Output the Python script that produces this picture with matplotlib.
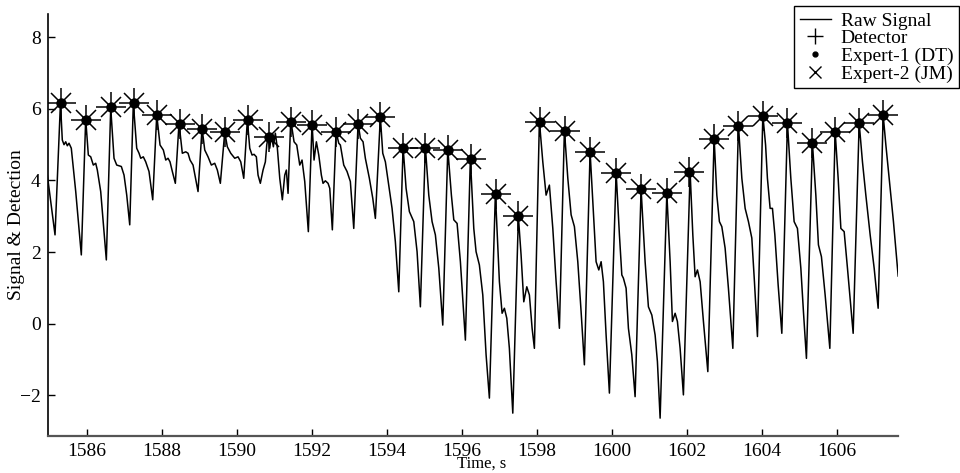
import numpy as np
import matplotlib
matplotlib.use('Agg')
import matplotlib.pyplot as plt
from matplotlib.lines import Line2D

# Raw signal vertices (time in s, amplitude)
sig_t = [
    1584.95, 1585.155, 1585.30, 1585.349, 1585.395, 1585.440, 1585.483, 1585.528, 1585.589, 1585.707, 1585.856,
    1585.973, 1586.043, 1586.107, 1586.176, 1586.240, 1586.283, 1586.373, 1586.523,
    1586.640, 1586.728, 1586.800, 1586.923, 1586.995, 1587.067, 1587.147,
    1587.243, 1587.333, 1587.395, 1587.440, 1587.509, 1587.573, 1587.661, 1587.760,
    1587.867, 1587.955, 1588.043, 1588.107, 1588.168, 1588.221, 1588.283, 1588.363,
    1588.461, 1588.549, 1588.640, 1588.701, 1588.755, 1588.835, 1588.968,
    1589.075, 1589.147, 1589.235, 1589.323, 1589.413, 1589.483, 1589.563,
    1589.680, 1589.749, 1589.840, 1589.947, 1590.035, 1590.107, 1590.187,
    1590.283, 1590.347, 1590.408, 1590.461, 1590.523, 1590.568, 1590.629, 1590.701, 1590.763, 1590.800,
    1590.835, 1590.880, 1590.923, 1590.976, 1591.029, 1591.083, 1591.147, 1591.216, 1591.280, 1591.323, 1591.368,
    1591.440, 1591.528, 1591.600, 1591.680, 1591.741, 1591.813, 1591.909,
    1592.008, 1592.061, 1592.123, 1592.187, 1592.256, 1592.301, 1592.363, 1592.435, 1592.480, 1592.549,
    1592.648, 1592.720, 1592.763, 1592.853, 1592.941, 1593.029, 1593.120,
    1593.235, 1593.296, 1593.368, 1593.429, 1593.536, 1593.627, 1593.696,
    1593.829, 1593.893, 1593.963, 1594.053, 1594.141, 1594.229, 1594.320,
    1594.435, 1594.515, 1594.603, 1594.720, 1594.808, 1594.896,
    1595.029, 1595.120, 1595.208, 1595.296, 1595.387, 1595.493,
    1595.627, 1595.723, 1595.787, 1595.875, 1595.963, 1596.096,
    1596.229, 1596.320, 1596.381, 1596.469, 1596.560, 1596.648, 1596.736,
    1596.896, 1597.003, 1597.075, 1597.136, 1597.200, 1597.269, 1597.360,
    1597.509, 1597.581, 1597.653, 1597.733, 1597.803, 1597.875, 1597.936,
    1598.069, 1598.160, 1598.248, 1598.336, 1598.427, 1598.515, 1598.603,
    1598.736, 1598.827, 1598.915, 1599.003, 1599.093, 1599.181, 1599.269,
    1599.421, 1599.509, 1599.581, 1599.653, 1599.715, 1599.776, 1599.848, 1599.936,
    1600.115, 1600.203, 1600.267, 1600.309, 1600.381, 1600.443, 1600.533, 1600.621,
    1600.781, 1600.888, 1600.976, 1601.067, 1601.155, 1601.216, 1601.288,
    1601.467, 1601.555, 1601.616, 1601.688, 1601.749, 1601.821, 1601.909,
    1602.088, 1602.160, 1602.221, 1602.283, 1602.355, 1602.443, 1602.560,
    1602.728, 1602.800, 1602.869, 1602.933, 1603.021, 1603.109, 1603.227,
    1603.376, 1603.467, 1603.555, 1603.643, 1603.733, 1603.803, 1603.883,
    1604.027, 1604.100, 1604.149, 1604.221, 1604.283, 1604.347, 1604.435, 1604.533,
    1604.683, 1604.773, 1604.861, 1604.949, 1605.040, 1605.109, 1605.189,
    1605.349, 1605.440, 1605.509, 1605.589, 1605.688, 1605.813,
    1605.955, 1606.035, 1606.107, 1606.195, 1606.283, 1606.435,
    1606.595, 1606.683, 1606.773, 1606.888, 1606.995, 1607.101,
    1607.235, 1607.307, 1607.395, 1607.509, 1607.635,
]
sig_v = [
    4.15, 2.48, 6.17, 5.13, 5.00, 5.08, 4.97, 5.04, 4.90, 3.69, 1.92,
    5.72, 4.71, 4.66, 4.43, 4.48, 4.29, 3.69, 1.78,
    6.03, 4.62, 4.43, 4.39, 4.15, 3.59, 2.76,
    6.16, 4.90, 4.76, 4.62, 4.66, 4.52, 4.25, 3.46,
    5.83, 4.99, 4.85, 4.57, 4.62, 4.52, 4.25, 3.92,
    5.60, 4.76, 4.80, 4.76, 4.57, 4.43, 3.69,
    5.46, 4.85, 4.66, 4.43, 4.48, 4.29, 3.92,
    5.35, 4.94, 4.76, 4.62, 4.66, 4.52, 4.06,
    5.69, 4.90, 4.71, 4.73, 4.66, 4.15, 3.92, 4.29, 4.52, 4.99,
    5.22, 4.90, 5.27, 4.94, 5.32, 4.90, 4.06, 3.46, 4.15, 4.29, 3.64,
    5.69, 5.08, 4.99, 4.43, 4.57, 3.97, 2.57,
    5.60, 4.57, 5.08, 4.71, 4.15, 3.92, 3.99, 3.92, 3.78, 2.62,
    5.36, 5.04, 4.99, 4.43, 4.25, 3.97, 2.66,
    5.60, 5.18, 5.08, 4.62, 4.06, 3.50, 2.94,
    5.78, 4.76, 4.52, 3.87, 3.22, 2.29, 0.89,
    4.94, 3.78, 3.13, 2.85, 2.01, 0.47,
    4.94, 3.59, 2.85, 2.48, 1.55, -0.04,
    4.88, 3.59, 2.90, 2.80, 1.73, -0.46,
    4.62, 2.66, 2.01, 1.64, 0.80, -0.87, -2.08,
    3.64, 1.17, 0.29, 0.43, 0.15, -0.69, -2.50,
    2.99, 1.92, 0.61, 1.03, 0.80, -0.13, -0.69,
    5.66, 4.52, 3.59, 3.87, 2.66, 1.17, -0.13,
    5.41, 4.06, 3.04, 2.71, 1.73, 0.34, -1.15,
    4.80, 3.13, 1.73, 1.50, 1.73, 1.17, -0.32, -1.94,
    4.23, 2.48, 1.36, 1.27, 0.99, -0.13, -0.87, -2.04,
    3.75, 1.73, 0.47, 0.24, -0.32, -1.06, -2.64,
    3.64, 1.73, 0.06, 0.29, 0.06, -0.69, -1.99,
    4.23, 2.48, 1.31, 1.50, 1.17, 0.06, -1.34,
    5.18, 3.59, 2.85, 2.71, 2.11, 0.99, -0.69,
    5.55, 4.06, 3.22, 2.85, 2.39, 1.17, -0.36,
    5.83, 4.99, 4.06, 3.22, 3.22, 2.48, 1.08, -0.27,
    5.60, 4.06, 2.85, 2.66, 1.55, 0.34, -0.97,
    5.04, 3.59, 2.20, 1.87, 0.80, -0.69,
    5.36, 4.06, 2.66, 2.57, 1.55, -0.27,
    5.60, 4.52, 3.59, 2.48, 1.55, 0.43,
    5.83, 4.99, 4.06, 2.85, 1.33,
]

# Beat annotations (detector and both experts agree on these peaks)
peak_t = [1585.31, 1585.98, 1586.65, 1587.27, 1587.88, 1588.49, 1589.08, 1589.69, 1590.30,
          1590.86, 1591.45, 1592.01, 1592.65, 1593.24, 1593.82, 1594.44, 1595.03, 1595.63,
          1596.24, 1596.91, 1597.51, 1598.08, 1598.74, 1599.41, 1600.11, 1600.78, 1601.47,
          1602.07, 1602.73, 1603.37, 1604.03, 1604.68, 1605.34, 1605.96, 1606.59, 1607.23]
peak_v = [6.16, 5.69, 6.05, 6.16, 5.83, 5.58, 5.44, 5.36, 5.69,
          5.21, 5.63, 5.55, 5.36, 5.58, 5.77, 4.92, 4.92, 4.85,
          4.59, 3.62, 3.01, 5.64, 5.39, 4.80, 4.22, 3.75, 3.64,
          4.23, 5.16, 5.52, 5.80, 5.60, 5.04, 5.35, 5.60, 5.83]
detector_t, detector_v = peak_t, peak_v
expert1_t, expert1_v = peak_t, peak_v
expert2_t, expert2_v = peak_t, peak_v

plt.rcParams['font.family'] = ['Liberation Serif', 'DejaVu Serif']

fig = plt.figure(figsize=(9.6, 4.73), dpi=100)
ax = fig.add_axes([0.0495, 0.0789, 0.8859, 0.8915])

ax.plot(sig_t, sig_v, color='black', linewidth=1.1)
ax.plot(detector_t, detector_v, linestyle='none', marker='+', markersize=21,
        markeredgewidth=1.1, color='black')
ax.plot(expert2_t, expert2_v, linestyle='none', marker='x', markersize=15,
        markeredgewidth=1.1, color='black')
ax.plot(expert1_t, expert1_v, linestyle='none', marker='o', markersize=6.5,
        color='black')

ax.set_xlim(1584.955, 1607.63)
ax.set_ylim(-3.13, 8.65)
ax.set_xticks([1586, 1588, 1590, 1592, 1594, 1596, 1598, 1600, 1602, 1604, 1606])
ax.set_yticks([-2, 0, 2, 4, 6, 8])

ax.spines['top'].set_visible(False)
ax.spines['right'].set_visible(False)
ax.spines['left'].set_linewidth(1.2)
ax.spines['bottom'].set_linewidth(1.6)
ax.spines['bottom'].set_color('#555555')
ax.tick_params(direction='in', length=5, width=1, labelsize=14, pad=5)

ax.set_ylabel('Signal & Detection', fontsize=14)
ax.yaxis.set_label_coords(-0.027, 0.5)
ax.set_xlabel('Time, s', fontsize=12)
ax.xaxis.set_label_coords(0.51, -0.047)

handles = [
    Line2D([], [], color='black', linewidth=1.0),
    Line2D([], [], linestyle='none', marker='+', markersize=11, markeredgewidth=1.0, color='black'),
    Line2D([], [], linestyle='none', marker='o', markersize=3.5, color='black'),
    Line2D([], [], linestyle='none', marker='x', markersize=8, markeredgewidth=1.0, color='black'),
]
labels = ['Raw Signal', 'Detector', 'Expert-1 (DT)', 'Expert-2 (JM)']
leg = fig.legend(handles, labels, loc='upper right', bbox_to_anchor=(0.999, 0.987),
                 bbox_transform=fig.transFigure, fontsize=14, fancybox=False,
                 framealpha=1, edgecolor='black', borderaxespad=0, handlelength=1.6,
                 labelspacing=0.0, borderpad=0.3, handletextpad=0.5)
leg.get_frame().set_linewidth(1.0)

fig.savefig('out.png', dpi=100)
